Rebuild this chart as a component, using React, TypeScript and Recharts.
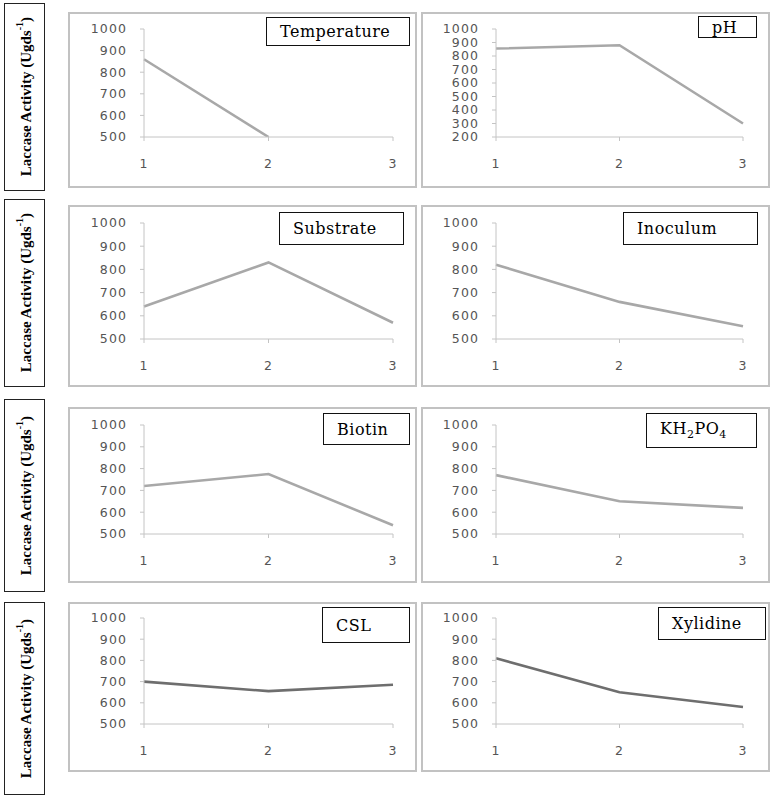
import React from 'react';
import { LineChart, Line, XAxis, YAxis } from 'recharts';

// ---- data ----
const levels = ['1', '2', '3'];
const temperature = [860, 500, null];
const ph = [855, 880, 300];
const substrate = [640, 830, 570];
const inoculum = [820, 660, 555];
const biotin = [720, 775, 540];
const kh2po4 = [770, 650, 620];
const csl = [700, 655, 685];
const xylidine = [810, 650, 580];

const ticks500 = [500, 600, 700, 800, 900, 1000];
const ticks200 = [200, 300, 400, 500, 600, 700, 800, 900, 1000];

const yLabel = 'Laccase Activity (Ugds';

const build = (vals: (number | null)[]) => levels.map((x, i) => ({ x, v: vals[i] }));

// ---- layout ----
const rows = [
  { top: 12, h: 176, plotTop: 17, plotH: 108, labTop: 3, labH: 188 },
  { top: 205, h: 182, plotTop: 18, plotH: 116, labTop: 199, labH: 188 },
  { top: 407, h: 176, plotTop: 18, plotH: 109, labTop: 399, labH: 193 },
  { top: 602, h: 170, plotTop: 16, plotH: 106, labTop: 602, labH: 193 },
];
const cols = [
  { left: 68, w: 349, axisOff: 76, plotW: 249 },
  { left: 421, w: 349, axisOff: 75, plotW: 247 },
];

type PanelProps = {
  row: number;
  col: number;
  vals: (number | null)[];
  ticks: number[];
  color: string;
  legend: React.ReactNode;
  lg: { x: number; y: number; w: number; h: number };
};

const tickStyle = { fontSize: 12.5, fill: '#555555', fontFamily: 'DejaVu Sans', letterSpacing: 1.1 };

function Panel({ row, col, vals, ticks, color, legend, lg }: PanelProps) {
  const r = rows[row];
  const c = cols[col];
  const xAxisH = 30;
  const yAxisW = 60;
  const margin = {
    top: r.plotTop,
    left: c.axisOff - yAxisW,
    right: c.w - c.axisOff - c.plotW,
    bottom: r.h - r.plotTop - r.plotH - xAxisH,
  };
  return (
    <>
      <div
        style={{
          position: 'absolute',
          left: c.left,
          top: r.top,
          width: c.w,
          height: r.h,
          boxSizing: 'border-box',
          border: '2px solid #c2c2c2',
          background: '#fff',
        }}
      />
      <div style={{ position: 'absolute', left: c.left, top: r.top }}>
        <LineChart width={c.w} height={r.h} data={build(vals)} margin={margin}>
          <XAxis
            dataKey="x"
            height={xAxisH}
            axisLine={{ stroke: '#c4c4c4' }}
            tickLine={{ stroke: '#c4c4c4' }}
            tickSize={4}
            tickMargin={18}
            tick={tickStyle}
            interval={0}
          />
          <YAxis
            width={yAxisW}
            domain={[ticks[0], ticks[ticks.length - 1]]}
            ticks={ticks}
            allowDataOverflow
            axisLine={{ stroke: '#c4c4c4' }}
            tickLine={{ stroke: '#c4c4c4' }}
            tickSize={4}
            tickMargin={13}
            tick={tickStyle}
            interval={0}
          />
          <Line
            type="linear"
            dataKey="v"
            stroke={color}
            strokeWidth={2.6}
            dot={false}
            isAnimationActive={false}
            connectNulls={false}
          />
        </LineChart>
      </div>
      <div
        style={{
          position: 'absolute',
          left: lg.x,
          top: lg.y,
          width: lg.w,
          height: lg.h,
          boxSizing: 'border-box',
          border: '1.5px solid #111',
          background: '#fff',
          display: 'flex',
          alignItems: 'center',
          paddingLeft: 13,
          fontFamily: 'DejaVu Serif',
          fontSize: 16,
          letterSpacing: 0.5,
          color: '#000',
          whiteSpace: 'nowrap',
        }}
      >
        {legend}
      </div>
    </>
  );
}

function YLabelBox({ row }: { row: number }) {
  const r = rows[row];
  return (
    <div
      style={{
        position: 'absolute',
        left: 4,
        top: r.labTop,
        width: 41,
        height: r.labH,
        boxSizing: 'border-box',
        border: '1.5px solid #222',
        background: '#fff',
        display: 'flex',
        alignItems: 'center',
        justifyContent: 'center',
      }}
    >
      <div
        style={{
          writingMode: 'vertical-rl',
          transform: 'rotate(180deg)',
          fontFamily: 'Liberation Serif',
          fontWeight: 'bold',
          fontSize: 15,
          whiteSpace: 'nowrap',
          color: '#000',
        }}
      >
        {yLabel}
        <sup style={{ fontSize: 10 }}>-1</sup>)
      </div>
    </div>
  );
}

const light = '#a8a8a8';
const dark = '#6e6e6e';

export default function App() {
  return (
    <div style={{ position: 'absolute', left: 0, top: 0, width: 778, height: 799, background: '#fff' }}>
      {[0, 1, 2, 3].map((i) => (
        <YLabelBox key={i} row={i} />
      ))}
      <Panel row={0} col={0} vals={temperature} ticks={ticks500} color={light} legend="Temperature" lg={{ x: 266, y: 17, w: 144, h: 29 }} />
      <Panel row={0} col={1} vals={ph} ticks={ticks200} color={light} legend="pH" lg={{ x: 698, y: 16, w: 59, h: 22 }} />
      <Panel row={1} col={0} vals={substrate} ticks={ticks500} color={light} legend="Substrate" lg={{ x: 279, y: 212, w: 125, h: 33 }} />
      <Panel row={1} col={1} vals={inoculum} ticks={ticks500} color={light} legend="Inoculum" lg={{ x: 623, y: 212, w: 135, h: 33 }} />
      <Panel row={2} col={0} vals={biotin} ticks={ticks500} color={light} legend="Biotin" lg={{ x: 323, y: 413, w: 87, h: 32 }} />
      <Panel
        row={2}
        col={1}
        vals={kh2po4}
        ticks={ticks500}
        color={light}
        legend={
          <span>
            KH<sub style={{ fontSize: 11 }}>2</sub>PO<sub style={{ fontSize: 11 }}>4</sub>
          </span>
        }
        lg={{ x: 646, y: 413, w: 111, h: 35 }}
      />
      <Panel row={3} col={0} vals={csl} ticks={ticks500} color={dark} legend="CSL" lg={{ x: 322, y: 607, w: 88, h: 36 }} />
      <Panel row={3} col={1} vals={xylidine} ticks={ticks500} color={dark} legend="Xylidine" lg={{ x: 658, y: 607, w: 108, h: 33 }} />
    </div>
  );
}
